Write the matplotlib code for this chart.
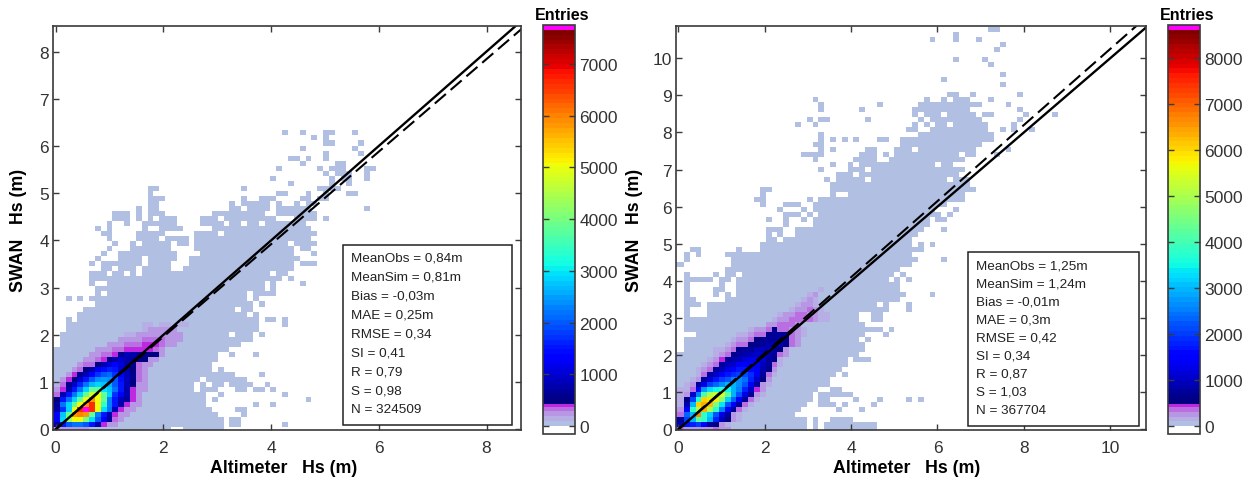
import numpy as np
import matplotlib
matplotlib.use('Agg')
import matplotlib.pyplot as plt
from matplotlib.colors import ListedColormap, BoundaryNorm
from matplotlib.patches import Rectangle

plt.rcParams['font.family'] = ['Liberation Sans', 'DejaVu Sans']

W, H = 1253, 481

# bins holding a few entries, per row of the histogram (-1 is the clipped strip on the axis)
sparse_left = {
    -1: "0-19 22-28", 0: "0-28 30-31 39", 1: "0-28 30-31", 2: "0-27 32", 3: "0-26 31-32", 4: "0-25 34 37",
    5: "0-25 27 43", 6: "0-25 28 39", 7: "0-23 25-27 31-32 34-35 37", 8: "0-23 25 27-28 30-33 36",
    9: "0-24 26-32", 10: "0-30 35", 11: "0-26 28", 12: "0-26", 13: "0-27", 14: "0-27 30 34",
    15: "0-29", 16: "1-31", 17: "1-33", 18: "1-29 31-33 35", 19: "2-34", 20: "2-34 39",
    21: "2 4-34 36-37 39", 22: "4-32 34", 23: "5-30 32-33", 24: "7-33 35", 25: "2 4 6-32 34",
    26: "7 9-32 34-37", 27: "7-35 37", 28: "6 9-35 37 42", 29: "6-38 40",
    30: "6-8 10-11 13 15-36 38-39", 31: "8-9 11-13 15-19 22-40", 32: "6 8-14 16-19 23-40 42-44",
    33: "7 11-14 16-20 23-41", 34: "8 11-20 25-40 44", 35: "9 13-19 24-40 42-43",
    36: "10 13 15-19 21-22 24-39 41-44", 37: "9 14-17 19-22 24-43", 38: "8-9 14-18 24-27 29-44",
    39: "7 9 15 18-21 27-43", 40: "9 12 15-20 25-28 30-31 33-34 36-42",
    41: "10-12 14 16 18-20 25-27 29-37 41-44 46", 42: "10-12 14 16-18 27-35 38-44",
    43: "14 16-17 30-31 33-36 38-43 53", 44: "16-17 30 32-36 38 41 43-44",
    45: "16-18 32 35-37 42-43 45-46", 46: "16 38-39 43 46 50-51", 47: "16-17 32 45-48",
    48: "40 47 50", 49: "37 47 49-50 53", 50: "46 48-50 53", 51: "38 45 47-49 53-54",
    52: "42 48-49", 53: "40-41 43 46", 54: "46 52", 55: "42 51", 56: "46-47 52", 57: "44 46",
    58: "39 42 46-47 51",
}
sparse_right = {
    -1: "0-21 23 25-33", 0: "0-21 23 25-33", 1: "0-21 23 26-29", 2: "0-19", 3: "0-20 27 31", 4: "0-21 24-26 28 33",
    5: "0-22 24-25 30 34 39 41", 6: "0-22 24-29", 7: "0-23 26-27", 8: "0-25", 9: "0-25",
    10: "0-26 28", 11: "0-27", 12: "0-28", 13: "0-28 30-32", 14: "0-30", 15: "1-31", 16: "1-31",
    17: "1-30 32", 18: "3-31 35", 19: "1-33 34 36", 20: "1-31", 21: "1-30 33-34", 22: "1 5-30 33-34",
    23: "1 5-34 35 39", 24: "1-3 5-33 35 39", 25: "1-2 8-37", 26: "1 6 8 10-38 43", 27: "1 6-7 10-37",
    28: "1 7 10-37", 29: "1-5 7-8 10-35 37 39", 30: "1 6 8-9 11-36 38", 31: "8-37", 32: "0 9-39",
    33: "1 9-36 37-38 39-40 45", 34: "1 3 8-39", 35: "2-3 10 14-38 39-41", 36: "14-39 41 43",
    37: "15-16 18-39", 38: "15 17 20-40", 39: "15-17 20-41 45", 40: "18 23-42", 41: "15 18 21 23-42 44-45",
    42: "18-20 22 24-44 46", 43: "17 21 23-43 47", 44: "14 18-20 23-45", 45: "13-14 22 24-47 48",
    46: "14 26 29-48", 47: "14-15 26-49 50", 48: "26-49", 49: "25 27-31 33-45 47-49", 50: "27-29 31-47",
    51: "24 29-31 33-48", 52: "26 29 31-43 45-46", 53: "23 30-33 36-44 45-48", 54: "21-24 31-33 35 37-47 49-50 54",
    55: "24 26 32-33 37-39 41-50 56", 56: "23-24 38-51", 57: "24 26 28 30 34-35 38-53", 58: "24 41-53",
    59: "39-40 43-52 55 57 60", 60: "20 23 40 42 44-45 47-52 57", 61: "22 24-25 32 41 43-51 58",
    62: "40 42-44 46-50 52-53 59 64", 63: "24 31 40-49 58", 64: "24 34 41-51 56", 65: "23 42 45 47-49 53",
    66: "46-47 50 58", 68: "55", 69: "45", 70: "55", 72: "53", 73: "47 52", 75: "54", 76: "55",
    77: "43 47 51", 78: "47", 79: "53-54",
}

# dense part along the diagonal, row of the mesh -> (first column, counts)
dense_left = {
    0: (0, [220, 220, 220, 220, 220, 220]),
    1: (0, [800, 1500, 2000, 2200, 2200, 2000, 1500, 800, 400, 200, 200]),
    2: (0, [1200, 2900, 4400, 5000, 5000, 4000, 3000, 2000, 1300, 700, 350, 200]),
    3: (0, [1300, 2800, 3900, 5800, 6000, 5800, 3900, 2300, 1500, 800, 400, 200, 200]),
    4: (0, [800, 1700, 2900, 5000, 6700, 7700, 6700, 5000, 3000, 2200, 900, 400, 200, 200]),
    5: (0, [700, 2200, 2900, 3800, 5000, 5800, 6700, 5000, 3400, 2300, 1500, 800, 400, 200, 200]),
    6: (0, [450, 1500, 2200, 2900, 3800, 5000, 5800, 5000, 3800, 2300, 1500, 900, 700, 400, 200]),
    7: (0, [300, 800, 1500, 2200, 2900, 3800, 4800, 5000, 3800, 2900, 1700, 1300, 800, 400, 200]),
    8: (0, [200, 400, 800, 1500, 2200, 2900, 3800, 3800, 3000, 2800, 2200, 1500, 800, 400, 200, 200]),
    9: (0, [150, 300, 600, 1000, 1600, 2200, 2700, 2900, 2800, 2600, 2000, 1500, 900, 450, 250, 200]),
    10: (1, [200, 400, 450, 1000, 1500, 2000, 2400, 2500, 2400, 2000, 1400, 900, 550, 300, 200]),
    11: (2, [250, 400, 600, 900, 1300, 1700, 2000, 2100, 1700, 1200, 900, 600, 300, 200]),
    12: (3, [250, 350, 450, 800, 1200, 1400, 1600, 1500, 1100, 800, 500, 350, 200]),
    13: (4, [250, 300, 350, 450, 800, 1100, 1300, 1100, 800, 600, 350, 200, 200]),
    14: (5, [200, 250, 300, 380, 600, 800, 1000, 800, 650, 500, 500, 250, 200]),
    15: (6, [200, 250, 300, 350, 400, 600, 850, 800, 650, 550, 500, 450, 200]),
    16: (7, [200, 220, 250, 300, 350, 400, 400, 400, 400, 400, 300, 200]),
    17: (9, [200, 220, 250, 300, 350, 350, 380, 380, 380, 300, 200, 200]),
    18: (11, [200, 200, 220, 250, 300, 300, 300, 300, 220, 200, 200]),
    19: (12, [180, 180, 200, 220, 250, 250, 220, 200, 200, 200]),
    20: (15, [180, 200, 200, 220, 220, 200]),
    21: (15, [180, 180, 0, 180, 180, 0, 180, 180]),
}
dense_right = {
    0: (0, [400, 230, 230, 230, 230, 230, 400, 220, 220]),
    1: (0, [1000, 1700, 1800, 2000, 1600, 800, 550, 300, 200]),
    2: (0, [700, 2000, 3000, 4200, 3800, 3000, 1800, 1000, 500, 250, 200]),
    3: (0, [400, 2300, 3000, 6700, 3800, 3200, 2200, 1300, 700, 300, 200]),
    4: (0, [300, 1500, 3800, 5000, 6300, 5000, 3800, 2500, 1500, 800, 350, 200]),
    5: (0, [200, 900, 3000, 6000, 6400, 6200, 4500, 3400, 2200, 1500, 800, 400, 200]),
    6: (0, [200, 500, 2000, 3700, 6000, 5900, 5800, 4700, 3200, 2300, 1500, 800, 350, 200]),
    7: (0, [200, 250, 1100, 2500, 4000, 5000, 5300, 5400, 4200, 3000, 2200, 1300, 700, 300, 200]),
    8: (0, [200, 200, 400, 1500, 2800, 3300, 3500, 3700, 3500, 3000, 2500, 1800, 1100, 450, 220]),
    9: (1, [200, 250, 700, 1300, 2000, 2300, 2600, 3000, 3000, 2700, 2200, 1500, 800, 300, 200]),
    10: (2, [200, 300, 800, 1200, 1700, 2000, 2200, 2500, 2700, 2400, 1800, 1100, 550, 250]),
    11: (3, [200, 350, 800, 1100, 1500, 1700, 1900, 2000, 2100, 1900, 1400, 800, 350, 200]),
    12: (3, [200, 220, 400, 800, 1000, 1300, 1500, 1700, 1700, 1600, 1400, 900, 600, 250]),
    13: (4, [200, 250, 400, 800, 1000, 1100, 1400, 1500, 1500, 1400, 1000, 700, 350, 200]),
    14: (5, [200, 250, 450, 700, 900, 1000, 1200, 1300, 1300, 1200, 800, 600, 200]),
    15: (6, [200, 250, 350, 600, 800, 900, 1000, 1100, 1100, 900, 700, 350, 220]),
    16: (6, [200, 200, 220, 400, 600, 700, 800, 950, 1000, 950, 800, 500, 220]),
    17: (8, [200, 250, 350, 400, 500, 650, 750, 850, 900, 850, 600, 350, 220]),
    18: (9, [200, 220, 280, 400, 550, 650, 750, 800, 750, 600, 350, 220]),
    19: (10, [200, 200, 280, 330, 400, 600, 700, 750, 650, 350, 220, 200]),
    20: (12, [200, 220, 250, 350, 650, 400, 400, 300, 220, 200]),
    21: (15, [220, 300, 400, 400, 350, 220]),
    22: (16, [200, 220, 300, 380, 400, 400, 350, 220, 200, 200]),
    23: (17, [200, 220, 280, 330, 350, 300, 220, 200, 180]),
    24: (19, [200, 250, 300, 330, 250, 200]),
    25: (20, [200, 300, 250, 200]),
    26: (21, [200, 250, 200]),
    27: (22, [200, 250]),
    28: (24, [200]),
}

slope_left = 0.98
slope_right = 1.025
stats_left = ["MeanObs = 0,84m", "MeanSim = 0,81m", "Bias = -0,03m", "MAE = 0,25m", "RMSE = 0,34",
              "SI = 0,41", "R = 0,79", "S = 0,98", "N = 324509"]
stats_right = ["MeanObs = 1,25m", "MeanSim = 1,24m", "Bias = -0,01m", "MAE = 0,3m", "RMSE = 0,42",
               "SI = 0,34", "R = 0,87", "S = 1,03", "N = 367704"]
cbar_ticks_left = [0, 1000, 2000, 3000, 4000, 5000, 6000, 7000]
cbar_ticks_right = [0, 1000, 2000, 3000, 4000, 5000, 6000, 7000, 8000]

low_colors = ['#ffffff', '#b1bfe3', '#b7aee5', '#b796e3', '#b96fe2', '#bd28e0']
dark = '#3a3a3a'


def to_matrix(sparse, dense):
    m = np.zeros((81, 80))
    for row, txt in sparse.items():
        for part in txt.split():
            a, _, b = part.partition('-')
            m[row + 1, int(a):int(b or a) + 1] = 60
    for row, (start, vals) in dense.items():
        for i, v in enumerate(vals):
            if v > 0:
                m[row, start + i] = v
    return m


def px_axes(x0, y0, x1, y1):
    return fig.add_axes([x0 / W, 1 - y1 / H, (x1 - x0) / W, (y1 - y0) / H])


def panel(m, xlim, ylim, x_edges, y_edges, box, cbox, step, vmin, vmax, yticks, xticks, cticks, slope,
          stats, stat_box, line_y, line_step, xlab_x, ylab_x):
    # colour levels: white, pale band, purples, then jet and a magenta cap
    low = [vmin, 5, step, 2 * step, 3 * step, 4 * step, 4.6 * step]
    top = vmax - step * 0.95
    n_jet = int(round((top - low[-1]) / step))
    bounds = low + list(np.linspace(low[-1], top, n_jet + 1)[1:]) + [vmax]
    colors = low_colors + [plt.get_cmap('jet')(i) for i in np.linspace(0, 1, n_jet)] + ['#ff00ff']
    cmap = ListedColormap(colors)
    norm = BoundaryNorm(bounds, len(colors))

    ax = px_axes(*box)
    mesh = ax.pcolormesh(x_edges, y_edges, m, cmap=cmap, norm=norm, rasterized=True)
    end = xlim[1] * 1.02
    ax.plot([0, end], [0, end], color='k', lw=1.7)
    ax.plot([0, end], [0, slope * end], color='k', lw=1.5, dashes=(7, 3))
    ax.set_xlim(*xlim)
    ax.set_ylim(*ylim)
    ax.set_xticks(xticks)
    ax.set_yticks(yticks)
    ax.tick_params(direction='in', top=True, right=True, length=4, width=1, color=dark,
                   labelsize=12.5, labelcolor='#333333')
    ax.tick_params(axis='x', pad=7)
    ax.tick_params(axis='y', pad=3)
    for s in ax.spines.values():
        s.set_color(dark)
        s.set_linewidth(1.2)

    cax = px_axes(*cbox)
    cb = fig.colorbar(mesh, cax=cax, spacing='proportional', drawedges=False)
    cb.set_ticks(cticks)
    cb.ax.minorticks_off()
    cax.tick_params(direction='in', left=True, right=True, length=4, width=1, color=dark,
                    labelsize=12.5, labelcolor='#333333', pad=3)
    cb.outline.set_edgecolor(dark)
    cb.outline.set_linewidth(1.2)
    fig.text((cbox[0] + cbox[2]) / 2 / W + 3 / W, 1 - 15 / H, 'Entries', ha='center', va='center',
             fontsize=11.5, fontweight='bold')

    # statistics box
    x0, y0, x1, y1 = stat_box
    fig.add_artist(Rectangle((x0 / W, 1 - y1 / H), (x1 - x0) / W, (y1 - y0) / H, transform=fig.transFigure,
                             facecolor='white', edgecolor='#222222', lw=1.1, zorder=5))
    for i, s in enumerate(stats):
        fig.text((x0 + 8) / W, 1 - (line_y + i * line_step) / H, s, ha='left', va='center',
                 fontsize=9.7, color='#222222', zorder=6)

    fig.text(xlab_x / W, 1 - 469 / H, 'Altimeter   Hs (m)', ha='center', va='center',
             fontsize=12.8, fontweight='bold')
    fig.text(ylab_x / W, 1 - 230 / H, 'SWAN   Hs (m)', ha='center', va='center', rotation=90,
             fontsize=12.8, fontweight='bold')


fig = plt.figure(figsize=(W / 100, H / 100), dpi=100)

# left panel: 53.85 px per unit in x, 47.25 in y
xe = -0.03 + 0.1086 * np.arange(81)
xe[0] = -0.05
ye = -0.061 + 0.1065 * np.arange(82)
panel(to_matrix(sparse_left, dense_left), (-0.048, 8.64), (-0.013, 8.54), xe, ye, (53, 27, 521, 431),
      (543, 26, 575, 435), 95, -150, 7750, range(0, 9), range(0, 9, 2), cbar_ticks_left, slope_left,
      stats_left, (343, 246, 512, 426), 259, 18.9, 284, 19)

# right panel: 43.16 px per unit in x, 37.1 in y
xe = -0.01 + 0.1355 * np.arange(81)
xe[0] = -0.06
ye = -0.065 + 0.1348 * np.arange(82)
panel(to_matrix(sparse_right, dense_right), (-0.056, 10.83), (-0.019, 10.87), xe, ye, (676, 27, 1146, 431),
      (1168, 26, 1200, 435), 105, -170, 8720, range(0, 11), range(0, 11, 2), cbar_ticks_right, slope_right,
      stats_right, (968, 253, 1139, 427), 267, 18, 907, 634)

fig.savefig('out.png', dpi=100)
